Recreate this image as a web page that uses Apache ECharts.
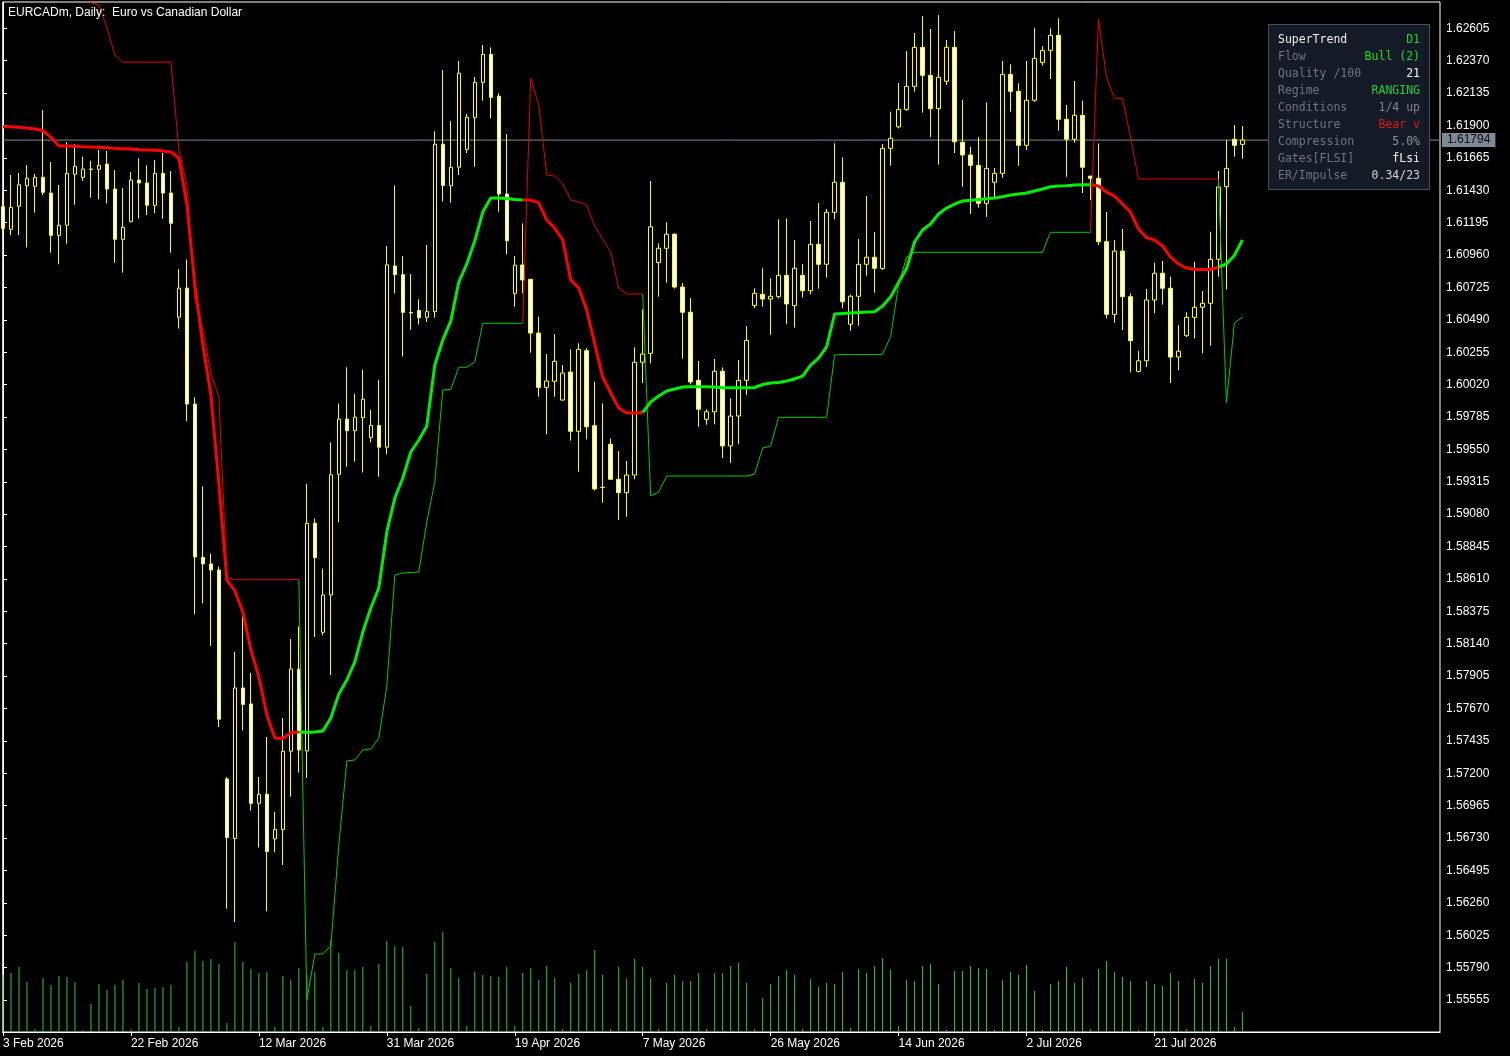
<!DOCTYPE html>
<html><head><meta charset="utf-8">
<script src="https://cdn.jsdelivr.net/npm/echarts@6/dist/echarts.min.js"></script>
<style>html,body{margin:0;padding:0;background:#000;overflow:hidden}#c{width:1510px;height:1056px}</style>
</head><body><div id="c"></div>
<script>
// ---- categories (daily bars, Sunday bars included) ----
const dates = [
'02-03','02-04','02-05','02-06','02-08','02-09','02-10','02-11','02-12','02-13','02-15','02-16','02-17','02-18','02-19','02-20','02-22','02-23','02-24','02-25','02-26','02-27',
'03-01','03-02','03-03','03-04','03-05','03-06','03-08','03-09','03-10','03-11','03-12','03-13','03-15','03-16','03-17','03-18','03-19','03-20','03-22','03-23','03-24','03-25','03-26','03-27','03-29','03-30','03-31',
'04-01','04-02','04-03','04-05','04-06','04-07','04-08','04-09','04-10','04-12','04-13','04-14','04-15','04-16','04-17','04-19','04-20','04-21','04-22','04-23','04-24','04-26','04-27','04-28','04-29','04-30',
'05-01','05-03','05-04','05-05','05-06','05-07','05-08','05-10','05-11','05-12','05-13','05-14','05-15','05-17','05-18','05-19','05-20','05-21','05-22','05-24','05-25','05-26','05-27','05-28','05-29','05-31',
'06-01','06-02','06-03','06-04','06-05','06-07','06-08','06-09','06-10','06-11','06-12','06-14','06-15','06-16','06-17','06-18','06-19','06-21','06-22','06-23','06-24','06-25','06-26','06-28','06-29','06-30',
'07-01','07-02','07-03','07-05','07-06','07-07','07-08','07-09','07-10','07-12','07-13','07-14','07-15','07-16','07-17','07-19','07-20','07-21','07-22','07-23','07-24','07-26','07-27','07-28','07-29','07-30','07-31',
'08-02','08-03'];
const tickIdx = [0,16,32,48,64,80,96,112,128,144];
const tickLabels = ['3 Feb 2026','22 Feb 2026','12 Mar 2026','31 Mar 2026','19 Apr 2026','7 May 2026','26 May 2026','14 Jun 2026','2 Jul 2026','21 Jul 2026'];
const priceTicks = [1.62605,1.62370,1.62135,1.61900,1.61665,1.61430,1.61195,1.60960,1.60725,1.60490,1.60255,1.60020,1.59785,1.59550,1.59315,1.59080,1.58845,1.58610,1.58375,1.58140,1.57905,1.57670,1.57435,1.57200,1.56965,1.56730,1.56495,1.56260,1.56025,1.55790,1.55555];

// ---- OHLC ----
const openP = [1.61311,1.61147,1.61314,1.61463,1.61459,1.61524,1.61410,1.61103,1.61176,1.61546,
1.61524,1.61582,1.61582,1.61620,1.61439,1.61074,1.61202,1.61504,1.61483,1.61321,
1.61553,1.61410,1.60509,1.60720,1.59879,1.58766,1.58719,1.58675,1.57159,1.56727,
1.57819,1.57703,1.56982,1.57048,1.56724,1.56793,1.57360,1.57955,1.57362,1.59014,
1.58223,1.58494,1.59370,1.59770,1.59686,1.59780,1.59636,1.59724,1.59566,1.60881,
1.60818,1.60543,1.60558,1.60508,1.60550,1.61764,1.61463,1.61597,1.61727,1.61959,
1.62213,1.62416,1.62112,1.61403,1.60682,1.60888,1.60784,1.60394,1.60000,1.60044,
1.59908,1.60111,1.59681,1.60266,1.59722,1.59275,1.59587,1.59333,1.59236,1.59364,
1.60182,1.60247,1.60906,1.61009,1.61111,1.60728,1.60545,1.60051,1.59768,1.59823,
1.60117,1.59575,1.59792,1.60051,1.60595,1.60675,1.60641,1.60658,1.60813,1.60593,
1.60813,1.60701,1.61038,1.60893,1.61270,1.61488,1.60458,1.60661,1.60893,1.60944,
1.60863,1.61734,1.61890,1.62017,1.62184,1.62467,1.62264,1.62022,1.62221,1.62467,
1.61778,1.61686,1.61611,1.61335,1.61488,1.61553,1.62271,1.62148,1.61756,1.62083,
1.62358,1.62445,1.62554,1.61945,1.61800,1.61974,1.61533,1.61517,1.61057,1.60530,
1.60989,1.60658,1.60116,1.60193,1.60634,1.60828,1.60719,1.60220,1.60375,1.60508,
1.60581,1.60610,1.60929,1.61456,1.61800,1.61763];
const highP = [1.61396,1.61541,1.61555,1.61613,1.61548,1.62012,1.61635,1.61468,1.61780,1.61766,
1.61674,1.61644,1.61722,1.61715,1.61577,1.61446,1.61562,1.61662,1.61611,1.61650,
1.61700,1.61570,1.60858,1.60928,1.59927,1.59282,1.58794,1.58700,1.57173,1.58080,
1.58338,1.57929,1.57173,1.57463,1.56919,1.57601,1.58174,1.58266,1.59299,1.59049,
1.58684,1.59601,1.59883,1.60146,1.59953,1.60129,1.59837,1.60055,1.61026,1.61465,
1.60952,1.60822,1.60639,1.61033,1.61859,1.62302,1.61932,1.62368,1.61983,1.62252,
1.62484,1.62467,1.62133,1.61838,1.60953,1.61190,1.60786,1.60513,1.60242,1.60387,
1.60162,1.60276,1.60320,1.60284,1.60042,1.59884,1.59630,1.59538,1.59466,1.60291,
1.60566,1.61497,1.61045,1.61198,1.61118,1.60757,1.60648,1.60191,1.59841,1.60206,
1.60145,1.59921,1.60199,1.60445,1.60719,1.60864,1.60791,1.61221,1.61226,1.61069,
1.60895,1.61207,1.61338,1.61294,1.61771,1.61669,1.60672,1.61076,1.61388,1.61127,
1.61766,1.62000,1.62208,1.62440,1.62571,1.62694,1.62600,1.62701,1.62520,1.62585,
1.62085,1.61746,1.61816,1.62068,1.61592,1.62368,1.62344,1.62206,1.62368,1.62609,
1.62476,1.62605,1.62678,1.62049,1.62223,1.62080,1.61533,1.61769,1.61272,1.61069,
1.61149,1.60682,1.60266,1.60714,1.60904,1.60917,1.60803,1.60452,1.60545,1.60912,
1.60699,1.61129,1.61570,1.61795,1.61903,1.61896];
const lowP = [1.61105,1.61105,1.61105,1.61016,1.61267,1.61394,1.60977,1.60893,1.61042,1.61325,
1.61499,1.61376,1.61365,1.61335,1.60904,1.60832,1.61198,1.61226,1.61251,1.61263,
1.61223,1.60977,1.60427,1.59754,1.58354,1.58433,1.58124,1.57536,1.56216,1.56121,
1.57511,1.56929,1.56661,1.56199,1.56629,1.56535,1.57031,1.57205,1.57166,1.58189,
1.58201,1.57913,1.59021,1.59425,1.59461,1.59383,1.59601,1.59351,1.59514,1.60681,
1.60224,1.60417,1.60456,1.60474,1.60505,1.61348,1.61340,1.61541,1.61700,1.61601,
1.62080,1.61952,1.61274,1.60965,1.60585,1.60682,1.60252,1.59932,1.59660,1.59932,
1.59903,1.59613,1.59388,1.59623,1.59251,1.59163,1.59331,1.59038,1.59062,1.59333,
1.60032,1.60175,1.60658,1.60759,1.60716,1.60208,1.60022,1.59714,1.59729,1.59732,
1.59488,1.59452,1.59587,1.59945,1.60574,1.60585,1.60382,1.60646,1.60458,1.60433,
1.60651,1.60675,1.60716,1.60796,1.61219,1.60574,1.60411,1.60447,1.60810,1.60687,
1.60851,1.61608,1.61879,1.62007,1.62145,1.61993,1.61816,1.61616,1.62194,1.61700,
1.61456,1.61258,1.61303,1.61237,1.61372,1.61521,1.62000,1.61608,1.61722,1.62072,
1.62334,1.62237,1.61862,1.61528,1.61775,1.61410,1.61359,1.61033,1.60501,1.60469,
1.60416,1.60109,1.60109,1.60148,1.60537,1.60600,1.60032,1.60124,1.60365,1.60355,
1.60247,1.60302,1.60803,1.60711,1.61674,1.61659];
const closeP = [1.61154,1.61306,1.61470,1.61517,1.61524,1.61415,1.61103,1.61176,1.61553,1.61604,
1.61584,1.61584,1.61611,1.61439,1.61074,1.61161,1.61504,1.61483,1.61321,1.61553,
1.61410,1.61190,1.60720,1.59879,1.58769,1.58719,1.58675,1.57593,1.56734,1.57819,
1.57699,1.56982,1.57048,1.56633,1.56793,1.57360,1.57957,1.57369,1.59014,1.58765,
1.58494,1.59366,1.59770,1.59686,1.59784,1.59914,1.59724,1.59566,1.60889,1.60818,
1.60544,1.60539,1.60505,1.60550,1.61764,1.61465,1.61597,1.62279,1.61959,1.62213,
1.62416,1.62104,1.61403,1.61064,1.60886,1.60779,1.60394,1.60000,1.60046,1.60189,
1.60104,1.59681,1.60276,1.59714,1.59263,1.59274,1.59333,1.59236,1.59364,1.60182,
1.60242,1.61165,1.61009,1.61111,1.60728,1.60545,1.60039,1.59841,1.59823,1.60117,
1.59575,1.59792,1.60051,1.60341,1.60682,1.60641,1.60661,1.60813,1.60605,1.60864,
1.60701,1.61038,1.60893,1.61270,1.61488,1.60621,1.60661,1.60893,1.60944,1.60864,
1.61734,1.61807,1.62017,1.62184,1.62467,1.62264,1.62022,1.62250,1.62467,1.61782,
1.61686,1.61611,1.61335,1.61589,1.61553,1.62271,1.62148,1.61756,1.62083,1.62387,
1.62445,1.62554,1.61945,1.61800,1.61974,1.61597,1.61517,1.61057,1.60530,1.60989,
1.60658,1.60339,1.60193,1.60634,1.60828,1.60719,1.60220,1.60262,1.60508,1.60581,
1.60610,1.60929,1.61454,1.61589,1.61756,1.61794];

// ---- SuperTrend baseline (thick), trend flips ----
const baseline = [1.61891,1.61891,1.61887,1.61882,1.61874,1.61862,1.61814,1.61751,1.61751,1.61749,
1.61746,1.61744,1.61742,1.61739,1.61734,1.61732,1.61729,1.61724,1.61722,1.61720,
1.61715,1.61708,1.61664,1.61323,1.60743,1.60307,1.59945,1.59299,1.58602,1.58523,
1.58370,1.58095,1.57899,1.57623,1.57456,1.57452,1.57495,1.57500,1.57496,1.57500,
1.57507,1.57601,1.57775,1.57877,1.58008,1.58225,1.58399,1.58544,1.58951,1.59197,
1.59342,1.59531,1.59618,1.59720,1.60162,1.60344,1.60481,1.60764,1.60895,1.61062,
1.61272,1.61374,1.61374,1.61370,1.61363,1.61359,1.61359,1.61338,1.61214,1.61156,
1.61069,1.60779,1.60721,1.60561,1.60315,1.60075,1.59959,1.59850,1.59814,1.59814,
1.59818,1.59894,1.59937,1.59974,1.59988,1.60003,1.60005,1.60005,1.60005,1.60003,
1.59998,1.59998,1.59998,1.59998,1.59999,1.60021,1.60032,1.60035,1.60046,1.60061,
1.60082,1.60162,1.60213,1.60293,1.60532,1.60536,1.60540,1.60543,1.60547,1.60549,
1.60590,1.60656,1.60761,1.60862,1.61055,1.61142,1.61185,1.61258,1.61301,1.61330,
1.61352,1.61357,1.61363,1.61368,1.61374,1.61383,1.61396,1.61403,1.61410,1.61425,
1.61439,1.61456,1.61461,1.61463,1.61468,1.61470,1.61470,1.61461,1.61417,1.61388,
1.61330,1.61272,1.61149,1.61087,1.61069,1.61026,1.60946,1.60895,1.60866,1.60856,
1.60856,1.60856,1.60872,1.60895,1.60957,1.61069];
const flipBars = [37,65,80,136,152]; // first segment bearish (red)

// ---- bands (thin) ----
const upperBand = [null,null,null,null,null,null,null,null,null,null,
1.62955,1.62789,1.62774,1.62607,1.62411,1.62360,1.62360,1.62360,1.62360,1.62360,
1.62360,1.62360,1.61722,1.61468,1.60634,1.60416,1.60104,1.59930,1.58617,1.58605,
1.58605,1.58605,1.58605,1.58605,1.58605,1.58605,1.58605,1.58605,null,null,
null,null,null,null,null,null,null,null,null,null,
null,null,null,null,null,null,null,null,null,null,
null,null,null,null,null,1.60465,1.62242,1.62049,1.61541,1.61533,
1.61475,1.61359,1.61345,1.61323,1.61170,1.61076,1.60982,1.60721,1.60678,1.60678,
1.60678,null,null,null,null,null,null,null,null,null,
null,null,null,null,null,null,null,null,null,null,
null,null,null,null,null,null,null,null,null,null,
null,null,null,null,null,null,null,null,null,null,
null,null,null,null,null,null,null,null,null,null,
null,null,null,null,null,null,1.61125,1.62670,1.62252,1.62097,
1.62097,1.61818,1.61512,1.61512,1.61512,1.61512,1.61512,1.61512,1.61512,1.61512,
1.61512,1.61512,1.61512,null,null,null];
const lowerBand = [null,null,null,null,null,null,null,null,null,null,
null,null,null,null,null,null,null,null,null,null,
null,null,null,null,null,null,null,null,null,null,
null,null,null,null,null,null,null,1.58605,1.55555,1.55889,
1.55889,1.55947,1.56680,1.57289,1.57297,1.57369,1.57376,1.57456,1.57833,1.58639,
1.58653,1.58657,1.58660,1.59023,1.59313,1.59981,1.59986,1.60146,1.60146,1.60184,
1.60465,1.60465,1.60465,1.60465,1.60465,1.60465,null,null,null,null,
null,null,null,null,null,null,null,null,null,null,
1.60678,1.59212,1.59241,1.59357,1.59357,1.59357,1.59357,1.59357,1.59357,1.59357,
1.59357,1.59357,1.59357,1.59357,1.59371,1.59560,1.59575,1.59783,1.59783,1.59783,
1.59783,1.59783,1.59783,1.59783,1.60235,1.60238,1.60238,1.60238,1.60238,1.60238,
1.60240,1.60367,1.60743,1.60946,1.60980,1.60980,1.60980,1.60980,1.60980,1.60980,
1.60980,1.60980,1.60980,1.60980,1.60980,1.60980,1.60980,1.60980,1.60980,1.60980,
1.60980,1.61125,1.61125,1.61125,1.61125,1.61125,1.61125,null,null,null,
null,null,null,null,null,null,null,null,null,null,
null,null,1.61512,1.59887,1.60467,1.60510];

// ---- impulse histogram (bottom) ----
const impulse = [57,59,65,50,3,54,47,56,55,50,
2,28,48,42,47,52,3,49,43,44,
45,47,5,70,81,71,73,68,9,90,
70,63,59,60,5,56,52,64,57,60,
5,92,79,62,62,65,6,68,91,86,
85,26,4,58,90,100,64,54,6,60,
57,56,55,65,6,59,64,52,66,54,
3,49,58,62,82,57,3,65,53,73,
65,54,3,49,57,51,51,59,3,59,
59,66,69,49,3,34,48,56,62,57,
3,53,45,49,48,60,4,63,59,66,
74,62,6,52,51,66,68,48,2,61,
61,66,64,63,2,52,60,57,67,41,
2,48,51,65,49,54,3,63,71,60,
55,51,2,51,48,46,59,51,3,53,
49,66,73,73,5,20];

// ---- panel ----
const panelRows = [
  ['SuperTrend','D1','#ececec','#22d322'],
  ['Flow','Bull (2)','#6e7682','#1ee11e'],
  ['Quality /100','21','#6e7682','#f5f5f5'],
  ['Regime','RANGING','#6e7682','#1fd03c'],
  ['Conditions','1/4 up','#6e7682','#7f868f'],
  ['Structure','Bear v','#6e7682','#e01b1b'],
  ['Compression','5.0%','#6e7682','#8e949b'],
  ['Gates[FLSI]','fLsi','#6e7682','#f5f5f5'],
  ['ER/Impulse','0.34/23','#6e7682','#d4d4d4']
];
const lastPrice = 1.61794;

// ================= chart =================
const FONT = 'Liberation Sans, Arial, sans-serif';
const N = openP.length;
const X_MIN = -0.0375, X_MAX = 179.7125;
const chart = echarts.init(document.getElementById('c'));

const candleData = openP.map((o,i)=>[i,o,closeP[i],lowP[i],highP[i]]);
const bounds = [0].concat(flipBars, [N-1]);
const redSeg = [], greenSeg = [];
for (let s=0; s<bounds.length-1; s++){
  const a = bounds[s], b = bounds[s+1];
  const t = (s%2===0) ? redSeg : greenSeg;
  for (let k=a; k<=b; k++) t.push([k, baseline[k]]);
  t.push([b+0.5,'-']);
}
const toPairs = arr => arr.map((v,i)=>[i, v==null?'-':v]);

const graphics = [
  {type:'text', left:8, top:7, style:{text:'EURCADm, Daily:  Euro vs Canadian Dollar', fill:'#ffffff', font:'12px '+FONT}, z:100},
  {type:'rect', shape:{x:1268.5,y:24.5,width:161,height:165}, style:{fill:'#141a26', stroke:'#474e5e', lineWidth:1}, z:100}
];
panelRows.forEach((r,i)=>{
  const y = 40 + 17.05*i;
  graphics.push({type:'text', x:1278, y:y, style:{text:r[0], fill:r[2], font:'11.5px DejaVu Sans Mono, monospace', verticalAlign:'middle', align:'left'}, z:101});
  graphics.push({type:'text', x:1420, y:y, style:{text:r[1], fill:r[3], font:'11.5px DejaVu Sans Mono, monospace', verticalAlign:'middle', align:'right'}, z:101});
});

chart.setOption({
  backgroundColor:'#000000',
  animation:false,
  textStyle:{fontFamily:FONT},
  grid:{left:2, right:70, top:2, bottom:24, show:true, borderColor:'#ffffff', borderWidth:1, backgroundColor:'transparent'},
  xAxis:{type:'value', min:X_MIN, max:X_MAX,
    axisLine:{show:true, lineStyle:{color:'#ffffff'}},
    splitLine:{show:false},
    axisTick:{show:true, customValues:tickIdx, length:4, lineStyle:{color:'#ffffff'}},
    axisLabel:{show:true, customValues:tickIdx, formatter:v=>tickLabels[tickIdx.indexOf(Math.round(v))]||'', align:'left', color:'#ffffff', fontSize:12, fontFamily:FONT, margin:6}
  },
  yAxis:[
    {type:'value', position:'right', min:1.55323, max:1.62796, scale:true,
      axisLine:{show:true, lineStyle:{color:'#ffffff'}},
      splitLine:{show:false},
      axisTick:{show:true, customValues:priceTicks, length:4, lineStyle:{color:'#ffffff'}},
      axisLabel:{show:true, customValues:priceTicks, formatter:v=>v.toFixed(5), color:'#ffffff', fontSize:12, fontFamily:FONT, margin:6}
    },
    {type:'value', min:0, max:1030, show:false}
  ],
  graphic:graphics,
  series:[
    {type:'bar', name:'impulse', yAxisIndex:1, data:impulse.map((v,i)=>[i,v]), barWidth:1, itemStyle:{color:'#2fc82f'}, z:1, silent:true, large:false, progressive:0},
    {type:'line', name:'price', data:[[X_MIN,lastPrice],[X_MAX,lastPrice]], showSymbol:false, symbol:'none', lineStyle:{color:'#7d8996', width:1}, z:2, silent:true,
      endLabel:{show:true, formatter:lastPrice.toFixed(5), backgroundColor:'#7d8996', color:'#0c0c0c', padding:[1,5,1,5], fontSize:12, fontFamily:FONT, distance:2}},
    {type:'candlestick', name:'candles', data:candleData, encode:{x:0,y:[1,2,3,4]}, barWidth:4, z:3, silent:true, large:false, progressive:0,
      itemStyle:{color:'#000000', color0:'#ffffff', borderColor:'#ffff00', borderColor0:'#ffff00', borderColorDoji:'#ffff00', borderWidth:1}},
    {type:'line', name:'upper', data:toPairs(upperBand), showSymbol:false, symbol:'none', lineStyle:{color:'#e60000', width:1}, z:4, silent:true, connectNulls:false},
    {type:'line', name:'lower', data:toPairs(lowerBand), showSymbol:false, symbol:'none', lineStyle:{color:'#00cc00', width:1}, z:4, silent:true, connectNulls:false},
    {type:'line', name:'stRed', data:redSeg, showSymbol:false, symbol:'none', lineStyle:{color:'#ff0000', width:3}, z:5, silent:true, connectNulls:false},
    {type:'line', name:'stGreen', data:greenSeg, showSymbol:false, symbol:'none', lineStyle:{color:'#00ee00', width:3}, z:5, silent:true, connectNulls:false}
  ]
});
</script>
</body></html>
